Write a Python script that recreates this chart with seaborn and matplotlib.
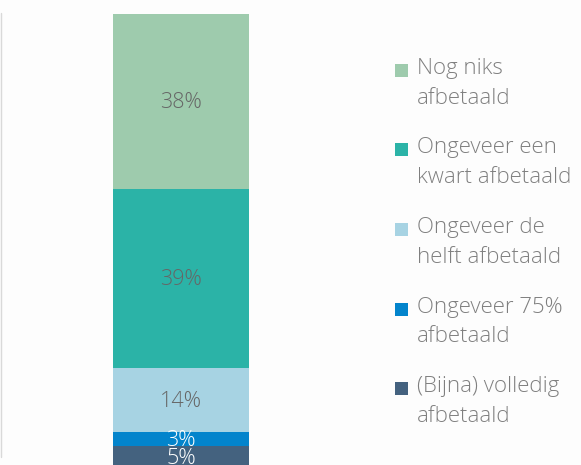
import matplotlib
matplotlib.use("Agg")
import matplotlib.pyplot as plt
from matplotlib.patches import Rectangle
import pandas as pd
import seaborn as sns

# DATA
categories = [
    "(Bijna) volledig\nafbetaald",
    "Ongeveer 75%\nafbetaald",
    "Ongeveer de\nhelft afbetaald",
    "Ongeveer een\nkwart afbetaald",
    "Nog niks\nafbetaald",
]
shares = [5, 3, 14, 39, 38]
colors = ["#44627f", "#0384cc", "#a7d3e3", "#2bb3a7", "#9ecbad"]
label_colors = ["white", "white", "#666666", "#666666", "#666666"]

data = pd.DataFrame({"Category": categories, "Share": shares})
data["Bottom"] = data["Share"].cumsum() - data["Share"]

sns.set_style("white")
plt.rcParams["font.family"] = ["Open Sans", "DejaVu Sans"]

fig = plt.figure(figsize=(5.81, 4.65), dpi=100)
fig.patch.set_facecolor("#fdfdfd")
W, H = 581, 465

# axis spans the bar; bottom runs slightly past the figure edge
ax = fig.add_axes([113 / W, -4 / H, 136 / W, 455 / H])
ax.set_facecolor("none")

for i, row in data.iterrows():
    sns.barplot(x=[0], y=[row["Share"]], bottom=row["Bottom"], color=colors[i],
                width=1.0, ax=ax, saturation=1, linewidth=0)
    ax.text(0, row["Bottom"] + row["Share"] / 2 - 0.3, f'{row["Share"]}%',
            ha="center", va="center", fontsize=15.5, fontweight="light",
            color=label_colors[i])

ax.set_xlim(-0.5, 0.5)
ax.set_ylim(0, data["Share"].sum())
ax.axis("off")

# faint frame line on the left
fig.add_artist(plt.Line2D([0.8 / W, 0.8 / W], [1 - 13 / H, 1 - 457 / H],
                          color="#d9d9d9", linewidth=1))

# legend, top to bottom
for k, i in enumerate(reversed(range(len(categories)))):
    yc = 70 + k * 79.5
    fig.add_artist(Rectangle((395 / W, 1 - (yc + 7) / H), 13 / W, 13 / H,
                             facecolor=colors[i], edgecolor="none",
                             transform=fig.transFigure))
    fig.text(417 / W, 1 - (yc - 12) / H, categories[i], ha="left", va="top",
             fontsize=16, fontweight="light", color="#7f7f7f",
             linespacing=1.55, transform=fig.transFigure)

fig.savefig("out.png", dpi=100, facecolor=fig.get_facecolor())
